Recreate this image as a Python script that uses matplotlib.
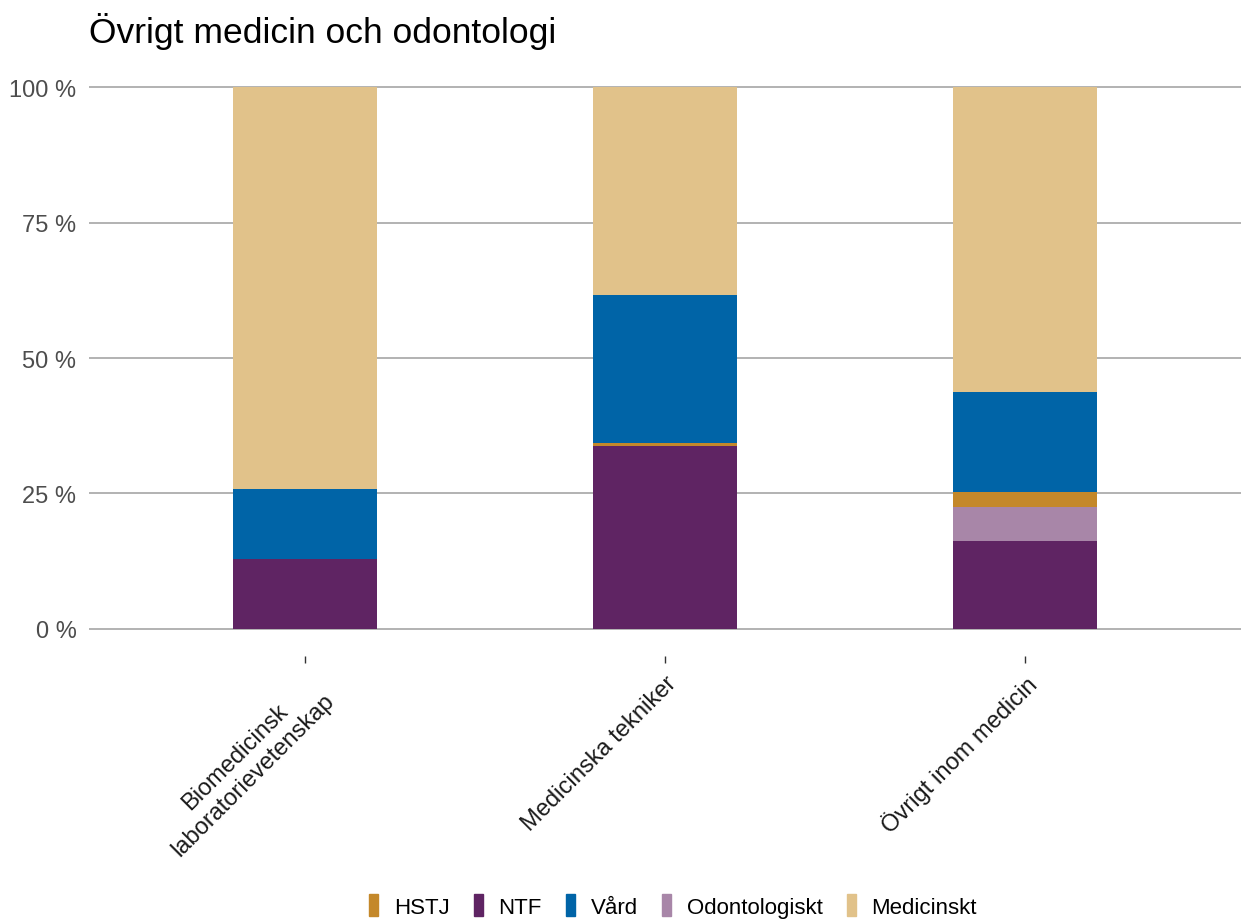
import numpy as np
import matplotlib
matplotlib.use("Agg")
import matplotlib.pyplot as plt
from matplotlib.patches import Rectangle

plt.rcParams['font.family'] = ['Liberation Sans', 'DejaVu Sans']

# data (percent of each category)
categories = ['Biomedicinsk\nlaboratorievetenskap', 'Medicinska tekniker', 'Övrigt inom medicin']
ntf = [12.9, 33.8, 16.2]
odontologiskt = [0.0, 0.0, 6.3]
hstj = [0.0, 0.5, 2.8]
vard = [12.9, 27.3, 18.4]
medicinskt = [74.2, 38.4, 56.3]

# stacking order bottom -> top
stack = [
    ('NTF', ntf, '#5F2463'),
    ('Odontologiskt', odontologiskt, '#A886A8'),
    ('HSTJ', hstj, '#C4882A'),
    ('Vård', vard, '#0064A7'),
    ('Medicinskt', medicinskt, '#E1C28A'),
]
legend_order = ['HSTJ', 'NTF', 'Vård', 'Odontologiskt', 'Medicinskt']

fig = plt.figure(figsize=(12.41, 9.2), dpi=100)
ax = fig.add_axes([89 / 1241, 1 - 657 / 920, 1152 / 1241, 596 / 920])

x = np.arange(1, len(categories) + 1)
bottom = np.zeros(len(categories))
colors = {}
for name, vals, col in stack:
    vals = np.array(vals)
    ax.bar(x, vals, bottom=bottom, width=0.4, color=col, linewidth=0, zorder=2)
    bottom += vals
    colors[name] = col

ax.set_xlim(0.4, 3.6)
ax.set_ylim(-5, 105)
ax.set_yticks([0, 25, 50, 75, 100])
ax.set_yticklabels(['0 %', '25 %', '50 %', '75 %', '100 %'])
ax.yaxis.grid(True, color='#A6A6A6', linewidth=1.2, zorder=0)
ax.tick_params(axis='y', length=0, labelsize=17, labelcolor='#4D4D4D', pad=9)
ax.set_xticks(x)
ax.set_xticklabels(categories, rotation=45, ha='right', va='top',
                   rotation_mode='anchor', fontsize=17, color='#1A1A1A',
                   multialignment='center')
ax.tick_params(axis='x', length=5, width=1, color='#333333', pad=6)
for s in ax.spines.values():
    s.set_visible(False)

fig.text(89 / 1241, 1 - 32 / 920, 'Övrigt medicin och odontologi',
         fontsize=25.5, va='center', ha='left', color='black')

handles = [Rectangle((0, 0), 1, 1, color=colors[n]) for n in legend_order]
fig.legend(handles, legend_order, loc='center', bbox_to_anchor=(673 / 1241, 1 - 907 / 920),
           ncol=5, frameon=False, fontsize=16, handlelength=0.4, handleheight=1.1,
           handletextpad=0.7, columnspacing=1.1)

fig.savefig('out.png', dpi=100)
